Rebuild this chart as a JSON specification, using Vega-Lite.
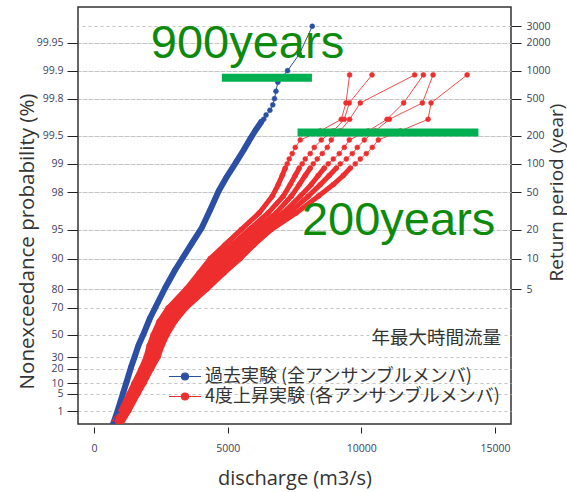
{
"$schema":"https://vega.github.io/schema/vega-lite/v6.json",
"width":433,"height":417,
"autosize":{"type":"none"},
"padding":{"left":78,"top":7,"right":56,"bottom":68},
"background":"white",
"config":{"view":{"stroke":"#333","strokeWidth":1.5},"font":"Open Sans"},
"datasets":{
"curves":[
{"s":"past","m":"P","q":575,"v":-2.08},{"s":"past","m":"P","q":712,"v":-1.842},{"s":"past","m":"P","q":880,"v":-1.52},{"s":"past","m":"P","q":1086,"v":-1.075},{"s":"past","m":"P","q":1217,"v":-0.802},{"s":"past","m":"P","q":1386,"v":-0.431},{"s":"past","m":"P","q":1517,"v":-0.183},{"s":"past","m":"P","q":1667,"v":0.114},{"s":"past","m":"P","q":1835,"v":0.362},{"s":"past","m":"P","q":2097,"v":0.783},{"s":"past","m":"P","q":2303,"v":1.055},{"s":"past","m":"P","q":2659,"v":1.526},{"s":"past","m":"P","q":3033,"v":1.972},{"s":"past","m":"P","q":3314,"v":2.269},{"s":"past","m":"P","q":3670,"v":2.641},{"s":"past","m":"P","q":4026,"v":3.012},{"s":"past","m":"P","q":4344,"v":3.458},{"s":"past","m":"P","q":4663,"v":3.928},{"s":"past","m":"P","q":4962,"v":4.275},{"s":"past","m":"P","q":5318,"v":4.646},{"s":"past","m":"P","q":5599,"v":4.943},{"s":"past","m":"P","q":5861,"v":5.241},{"s":"past","m":"P","q":6048,"v":5.439},{"s":"past","m":"P","q":6254,"v":5.637},{"s":"past","m":"P","q":6348,"v":5.704},{"s":"past","m":"P","q":6436,"v":5.809},{"s":"past","m":"P","q":6580,"v":5.927},{"s":"past","m":"P","q":6687,"v":6.061},{"s":"past","m":"P","q":6751,"v":6.215},{"s":"past","m":"P","q":6806,"v":6.398},{"s":"past","m":"P","q":6876,"v":6.621},{"s":"past","m":"P","q":7240,"v":6.909},{"s":"past","m":"P","q":7677,"v":7.314},{"s":"past","m":"P","q":8164,"v":8.007},
{"s":"p4k","m":"A","q":13958,"v":6.803},{"s":"p4k","m":"A","q":12609,"v":6.109},{"s":"p4k","m":"A","q":12497,"v":5.703},{"s":"p4k","m":"A","q":11460,"v":5.415},{"s":"p4k","m":"A","q":10636,"v":5.191},{"s":"p4k","m":"A","q":10411,"v":5.008},{"s":"p4k","m":"A","q":10186,"v":4.854},{"s":"p4k","m":"A","q":9962,"v":4.72},{"s":"p4k","m":"A","q":9774,"v":4.601},{"s":"p4k","m":"A","q":9587,"v":4.495},{"s":"p4k","m":"A","q":9325,"v":4.312},{"s":"p4k","m":"A","q":8951,"v":4.087},{"s":"p4k","m":"A","q":8389,"v":3.797},{"s":"p4k","m":"A","q":7565,"v":3.385},{"s":"p4k","m":"A","q":6629,"v":2.971},{"s":"p4k","m":"A","q":5992,"v":2.6},{"s":"p4k","m":"A","q":5468,"v":2.252},{"s":"p4k","m":"A","q":4869,"v":1.9},{"s":"p4k","m":"A","q":4232,"v":1.501},{"s":"p4k","m":"A","q":3445,"v":1.032},{"s":"p4k","m":"A","q":3033,"v":0.7},{"s":"p4k","m":"A","q":2734,"v":0.368},{"s":"p4k","m":"A","q":2547,"v":0.1},{"s":"p4k","m":"A","q":2397,"v":-0.183},{"s":"p4k","m":"A","q":2153,"v":-0.473},{"s":"p4k","m":"A","q":1873,"v":-0.829},{"s":"p4k","m":"A","q":1648,"v":-1.091},{"s":"p4k","m":"A","q":1311,"v":-1.504},{"s":"p4k","m":"A","q":936,"v":-1.917},
{"s":"p4k","m":"B","q":12684,"v":6.803},{"s":"p4k","m":"B","q":12284,"v":6.109},{"s":"p4k","m":"B","q":11048,"v":5.703},{"s":"p4k","m":"B","q":10523,"v":5.415},{"s":"p4k","m":"B","q":10112,"v":5.191},{"s":"p4k","m":"B","q":9849,"v":5.008},{"s":"p4k","m":"B","q":9662,"v":4.854},{"s":"p4k","m":"B","q":9437,"v":4.72},{"s":"p4k","m":"B","q":9213,"v":4.601},{"s":"p4k","m":"B","q":9063,"v":4.495},{"s":"p4k","m":"B","q":8801,"v":4.312},{"s":"p4k","m":"B","q":8464,"v":4.087},{"s":"p4k","m":"B","q":8014,"v":3.797},{"s":"p4k","m":"B","q":7303,"v":3.385},{"s":"p4k","m":"B","q":6404,"v":2.971},{"s":"p4k","m":"B","q":5805,"v":2.6},{"s":"p4k","m":"B","q":5243,"v":2.252},{"s":"p4k","m":"B","q":4681,"v":1.9},{"s":"p4k","m":"B","q":4082,"v":1.501},{"s":"p4k","m":"B","q":3333,"v":1.032},{"s":"p4k","m":"B","q":2921,"v":0.7},{"s":"p4k","m":"B","q":2640,"v":0.368},{"s":"p4k","m":"B","q":2453,"v":0.1},{"s":"p4k","m":"B","q":2284,"v":-0.183},{"s":"p4k","m":"B","q":2078,"v":-0.473},{"s":"p4k","m":"B","q":1798,"v":-0.829},{"s":"p4k","m":"B","q":1573,"v":-1.091},{"s":"p4k","m":"B","q":1236,"v":-1.504},{"s":"p4k","m":"B","q":861,"v":-1.917},
{"s":"p4k","m":"C","q":12321,"v":6.803},{"s":"p4k","m":"C","q":11583,"v":6.109},{"s":"p4k","m":"C","q":10962,"v":5.703},{"s":"p4k","m":"C","q":10261,"v":5.415},{"s":"p4k","m":"C","q":9550,"v":5.191},{"s":"p4k","m":"C","q":9363,"v":5.008},{"s":"p4k","m":"C","q":9175,"v":4.854},{"s":"p4k","m":"C","q":8951,"v":4.72},{"s":"p4k","m":"C","q":8763,"v":4.601},{"s":"p4k","m":"C","q":8614,"v":4.495},{"s":"p4k","m":"C","q":8389,"v":4.312},{"s":"p4k","m":"C","q":8127,"v":4.087},{"s":"p4k","m":"C","q":7715,"v":3.797},{"s":"p4k","m":"C","q":7078,"v":3.385},{"s":"p4k","m":"C","q":6254,"v":2.971},{"s":"p4k","m":"C","q":5618,"v":2.6},{"s":"p4k","m":"C","q":5018,"v":2.252},{"s":"p4k","m":"C","q":4494,"v":1.9},{"s":"p4k","m":"C","q":3895,"v":1.501},{"s":"p4k","m":"C","q":3183,"v":1.032},{"s":"p4k","m":"C","q":2809,"v":0.7},{"s":"p4k","m":"C","q":2528,"v":0.368},{"s":"p4k","m":"C","q":2341,"v":0.1},{"s":"p4k","m":"C","q":2191,"v":-0.183},{"s":"p4k","m":"C","q":2004,"v":-0.473},{"s":"p4k","m":"C","q":1723,"v":-0.829},{"s":"p4k","m":"C","q":1498,"v":-1.091},{"s":"p4k","m":"C","q":1198,"v":-1.504},{"s":"p4k","m":"C","q":824,"v":-1.917},
{"s":"p4k","m":"D","q":11995,"v":6.803},{"s":"p4k","m":"D","q":9962,"v":6.109},{"s":"p4k","m":"D","q":9561,"v":5.703},{"s":"p4k","m":"D","q":9213,"v":5.415},{"s":"p4k","m":"D","q":8876,"v":5.191},{"s":"p4k","m":"D","q":8726,"v":5.008},{"s":"p4k","m":"D","q":8539,"v":4.854},{"s":"p4k","m":"D","q":8351,"v":4.72},{"s":"p4k","m":"D","q":8202,"v":4.601},{"s":"p4k","m":"D","q":8089,"v":4.495},{"s":"p4k","m":"D","q":7902,"v":4.312},{"s":"p4k","m":"D","q":7677,"v":4.087},{"s":"p4k","m":"D","q":7378,"v":3.797},{"s":"p4k","m":"D","q":6816,"v":3.385},{"s":"p4k","m":"D","q":6029,"v":2.971},{"s":"p4k","m":"D","q":5393,"v":2.6},{"s":"p4k","m":"D","q":4794,"v":2.252},{"s":"p4k","m":"D","q":4307,"v":1.9},{"s":"p4k","m":"D","q":3745,"v":1.501},{"s":"p4k","m":"D","q":3033,"v":1.032},{"s":"p4k","m":"D","q":2678,"v":0.7},{"s":"p4k","m":"D","q":2416,"v":0.368},{"s":"p4k","m":"D","q":2247,"v":0.1},{"s":"p4k","m":"D","q":2097,"v":-0.183},{"s":"p4k","m":"D","q":1910,"v":-0.473},{"s":"p4k","m":"D","q":1648,"v":-0.829},{"s":"p4k","m":"D","q":1423,"v":-1.091},{"s":"p4k","m":"D","q":1124,"v":-1.504},{"s":"p4k","m":"D","q":749,"v":-1.917},
{"s":"p4k","m":"E","q":10400,"v":6.803},{"s":"p4k","m":"E","q":9550,"v":6.109},{"s":"p4k","m":"E","q":9363,"v":5.703},{"s":"p4k","m":"E","q":8951,"v":5.415},{"s":"p4k","m":"E","q":8501,"v":5.191},{"s":"p4k","m":"E","q":8239,"v":5.008},{"s":"p4k","m":"E","q":8089,"v":4.854},{"s":"p4k","m":"E","q":7902,"v":4.72},{"s":"p4k","m":"E","q":7790,"v":4.601},{"s":"p4k","m":"E","q":7677,"v":4.495},{"s":"p4k","m":"E","q":7527,"v":4.312},{"s":"p4k","m":"E","q":7340,"v":4.087},{"s":"p4k","m":"E","q":7078,"v":3.797},{"s":"p4k","m":"E","q":6516,"v":3.385},{"s":"p4k","m":"E","q":5805,"v":2.971},{"s":"p4k","m":"E","q":5168,"v":2.6},{"s":"p4k","m":"E","q":4569,"v":2.252},{"s":"p4k","m":"E","q":4120,"v":1.9},{"s":"p4k","m":"E","q":3595,"v":1.501},{"s":"p4k","m":"E","q":2921,"v":1.032},{"s":"p4k","m":"E","q":2565,"v":0.7},{"s":"p4k","m":"E","q":2322,"v":0.368},{"s":"p4k","m":"E","q":2153,"v":0.1},{"s":"p4k","m":"E","q":2022,"v":-0.183},{"s":"p4k","m":"E","q":1835,"v":-0.473},{"s":"p4k","m":"E","q":1573,"v":-0.829},{"s":"p4k","m":"E","q":1386,"v":-1.091},{"s":"p4k","m":"E","q":1086,"v":-1.504},{"s":"p4k","m":"E","q":712,"v":-1.917},
{"s":"p4k","m":"F","q":9561,"v":6.803},{"s":"p4k","m":"F","q":9426,"v":6.109},{"s":"p4k","m":"F","q":9250,"v":5.703},{"s":"p4k","m":"F","q":8464,"v":5.415},{"s":"p4k","m":"F","q":7715,"v":5.191},{"s":"p4k","m":"F","q":7527,"v":5.008},{"s":"p4k","m":"F","q":7415,"v":4.854},{"s":"p4k","m":"F","q":7303,"v":4.72},{"s":"p4k","m":"F","q":7228,"v":4.601},{"s":"p4k","m":"F","q":7153,"v":4.495},{"s":"p4k","m":"F","q":7041,"v":4.312},{"s":"p4k","m":"F","q":6891,"v":4.087},{"s":"p4k","m":"F","q":6666,"v":3.797},{"s":"p4k","m":"F","q":6179,"v":3.385},{"s":"p4k","m":"F","q":5505,"v":2.971},{"s":"p4k","m":"F","q":4906,"v":2.6},{"s":"p4k","m":"F","q":4344,"v":2.252},{"s":"p4k","m":"F","q":3932,"v":1.9},{"s":"p4k","m":"F","q":3445,"v":1.501},{"s":"p4k","m":"F","q":2771,"v":1.032},{"s":"p4k","m":"F","q":2434,"v":0.7},{"s":"p4k","m":"F","q":2210,"v":0.368},{"s":"p4k","m":"F","q":2060,"v":0.1},{"s":"p4k","m":"F","q":1947,"v":-0.183},{"s":"p4k","m":"F","q":1760,"v":-0.473},{"s":"p4k","m":"F","q":1498,"v":-0.829},{"s":"p4k","m":"F","q":1311,"v":-1.091},{"s":"p4k","m":"F","q":1011,"v":-1.504},{"s":"p4k","m":"F","q":637,"v":-1.917}
],
"bars":[{"q1":4782,"q2":8153,"v":6.734},{"q1":7614,"q2":14381,"v":5.377}],
"annot":[{"t":"900years","q":2123,"v":7.222},{"t":"200years","q":7779,"v":2.838}]
},
"layer":[
{"data":{"name":"curves"},"transform":[{"filter":"datum.s == 'past' && datum.v < 5.65"}],
 "mark":{"type":"line","strokeWidth":6,"strokeCap":"round","strokeJoin":"round","color":"#2a4fa5","clip":true},
 "encoding":{
  "x":{"field":"q","type":"quantitative","title":"discharge (m3/s)","scale":{"domain":[-600,15600],"nice":false,"zero":false},
   "axis":{"values":[0,5000,10000,15000],"format":"d","domain":false,"grid":false,"offset":3,"tickSize":6,"tickColor":"#222","labelPadding":10,"labelFontSize":10.5,"labelColor":"#40405e","labelFlush":false,"titleFontSize":20,"titleFontWeight":"normal","titleColor":"#333","titlePadding":15}},
  "y":{"field":"v","type":"quantitative","title":"Nonexceedance probability (%)","scale":{"domain":[-1.842,8.485],"nice":false,"zero":false},
   "axis":{"orient":"left","values":[7.60065,6.90726,6.21361,5.29581,4.60015,3.90194,2.9702,2.25037,1.49994,1.03093,0.36651,-0.18563,-0.47588,-0.83403,-1.09719,-1.52718],
    "labelExpr":"round(exp(-exp(-datum.value))*10000)/100","labelOverlap":false,"grid":true,"gridDash":[3,3],"gridColor":"#c4c4c4","domain":false,"tickSize":11,"tickColor":"#222","labelPadding":4,"labelFontSize":10.5,"labelColor":"#40405e",
    "titleFontSize":20.5,"titleFontWeight":"normal","titleColor":"#333","titleAngle":270,"titleBaseline":"bottom","titleAlign":"center","titleX":-41,"titleY":234}}
 }},
{"data":{"name":"curves"},"transform":[{"filter":"datum.s == 'p4k' && datum.v < 4.55"}],
 "mark":{"type":"line","strokeWidth":5,"strokeCap":"round","strokeJoin":"round","color":"#ee2e2e","clip":true},
 "encoding":{"x":{"field":"q","type":"quantitative","title":"discharge (m3/s)"},"y":{"field":"v","type":"quantitative","axis":null},"detail":{"field":"m"}}},
{"data":{"name":"curves"},"transform":[{"filter":"datum.s == 'past'"}],
 "mark":{"type":"line","strokeWidth":1,"color":"#2a4fa5","clip":true},
 "encoding":{"x":{"field":"q","type":"quantitative","title":"discharge (m3/s)"},"y":{"field":"v","type":"quantitative","axis":null}}},
{"data":{"name":"curves"},"transform":[{"filter":"datum.s == 'p4k'"}],
 "mark":{"type":"line","strokeWidth":1,"color":"#ee2e2e","opacity":0.85,"clip":true},
 "encoding":{"x":{"field":"q","type":"quantitative","title":"discharge (m3/s)"},"y":{"field":"v","type":"quantitative","axis":null},"detail":{"field":"m"}}},
{"data":{"name":"curves"},
 "mark":{"type":"point","filled":true,"size":24,"strokeWidth":0.6,"opacity":1,"clip":true},
 "encoding":{"x":{"field":"q","type":"quantitative","title":"discharge (m3/s)"},
  "y":{"field":"v","type":"quantitative","title":"Return period (year)",
   "axis":{"orient":"right","values":[8.00617,7.60065,6.90726,6.21361,5.29581,4.60015,3.90194,2.9702,2.25037,1.49994],
    "labelExpr":"round(1/(1-exp(-exp(-datum.value))))","labelOverlap":false,"grid":true,"gridDash":[3,3],"gridColor":"#c4c4c4","domain":false,"tickSize":10,"tickColor":"#222","labelPadding":5,"labelFontSize":10.5,"labelColor":"#40405e",
    "titleFontSize":19,"titleFontWeight":"normal","titleColor":"#333","titleAngle":270,"titleBaseline":"bottom","titleAlign":"center","titleX":55,"titleY":185}},
  "fill":{"field":"s","type":"nominal","scale":{"domain":["past","p4k"],"range":["#2a4fa5","#ee2e2e"]},
   "legend":{"orient":"none","legendX":96,"legendY":322,"padding":0,"title":"年最大時間流量","titleAnchor":"end","titleFont":"Noto Sans CJK JP","titleFontSize":18.5,"titleFontWeight":"normal","titleColor":"#333","titlePadding":18,
    "labelFont":"Noto Sans CJK JP","labelFontSize":18,"labelColor":"#333","labelLimit":0,"labelOffset":9,"rowPadding":0,
    "symbolType":"M-1.6,0L1.6,0M-0.35,0A0.35,0.35,0,1,1,0.35,0A0.35,0.35,0,1,1,-0.35,0Z","symbolSize":400,"symbolStrokeWidth":1.2,"symbolOpacity":1,
    "labelExpr":"datum.label == 'past' ? '過去実験 (全アンサンブルメンバ)' : '4度上昇実験 (各アンサンブルメンバ)'"}},
  "stroke":{"field":"s","type":"nominal","scale":{"domain":["past","p4k"],"range":["#2a4fa5","#ee2e2e"]},
   "legend":{"orient":"none","legendX":96,"legendY":322,"padding":0,"title":"年最大時間流量","titleAnchor":"end","titleFont":"Noto Sans CJK JP","titleFontSize":18.5,"titleFontWeight":"normal","titleColor":"#333","titlePadding":18,
    "labelFont":"Noto Sans CJK JP","labelFontSize":18,"labelColor":"#333","labelLimit":0,"labelOffset":9,"rowPadding":0,
    "symbolType":"M-1.6,0L1.6,0M-0.35,0A0.35,0.35,0,1,1,0.35,0A0.35,0.35,0,1,1,-0.35,0Z","symbolSize":400,"symbolStrokeWidth":1.2,"symbolOpacity":1,
    "labelExpr":"datum.label == 'past' ? '過去実験 (全アンサンブルメンバ)' : '4度上昇実験 (各アンサンブルメンバ)'"}}
 }},
{"data":{"name":"bars"},
 "mark":{"type":"rule","strokeWidth":8,"color":"#00b050"},
 "encoding":{"x":{"field":"q1","type":"quantitative","title":"discharge (m3/s)"},"x2":{"field":"q2"},"y":{"field":"v","type":"quantitative","axis":null}}},
{"data":{"name":"annot"},
 "mark":{"type":"text","align":"left","baseline":"alphabetic","font":"Liberation Sans","fontSize":47,"color":"#0c8a0c"},
 "encoding":{"x":{"field":"q","type":"quantitative","title":"discharge (m3/s)"},"y":{"field":"v","type":"quantitative","axis":null},"text":{"field":"t"}}}
],
"resolve":{"axis":{"y":"independent"}}
}
